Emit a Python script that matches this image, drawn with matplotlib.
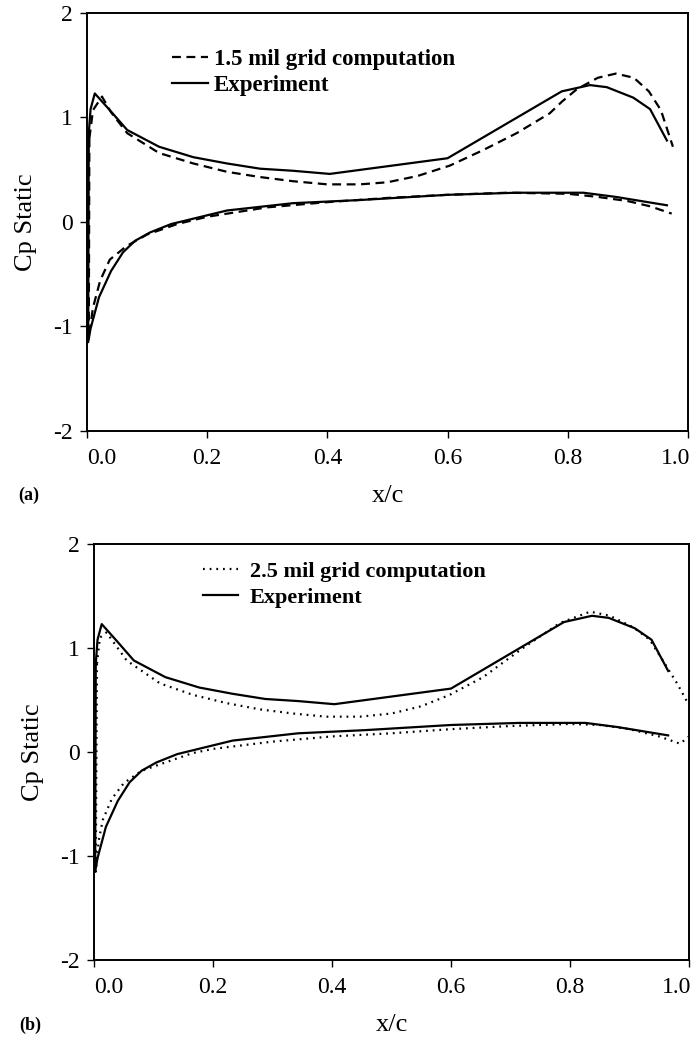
import matplotlib
matplotlib.use('Agg')
from matplotlib import pyplot as plt
from matplotlib import transforms

plt.rcParams['font.family'] = ['Liberation Serif', 'DejaVu Serif']
plt.rcParams['axes.unicode_minus'] = False

# experiment (same data in both panels), upper and lower surface from the leading edge
exp_up_x = [0.003, 0.006, 0.013, 0.038, 0.067, 0.12, 0.177, 0.233, 0.288, 0.343, 0.404,
            0.6, 0.79, 0.837, 0.865, 0.909, 0.937, 0.965]
exp_up_cp = [0.85, 1.08, 1.23, 1.07, 0.88, 0.72, 0.62, 0.56, 0.51, 0.49, 0.46,
             0.61, 1.25, 1.31, 1.29, 1.19, 1.08, 0.78]
exp_lo_x = [0.003, 0.002, 0.006, 0.02, 0.04, 0.06, 0.08, 0.105, 0.14, 0.19, 0.233, 0.343,
            0.454, 0.6, 0.715, 0.826, 0.88, 0.965]
exp_lo_cp = [0.85, -1.15, -1.02, -0.72, -0.47, -0.29, -0.18, -0.1, -0.02, 0.05, 0.11, 0.18,
             0.21, 0.26, 0.28, 0.28, 0.24, 0.16]

# 1.5 mil grid computation
c15_up_x = [0.004, 0.01, 0.025, 0.04, 0.067, 0.12, 0.177, 0.233, 0.288, 0.343, 0.4, 0.454,
            0.5, 0.55, 0.604, 0.66, 0.715, 0.77, 0.79, 0.815, 0.85, 0.88, 0.91, 0.935,
            0.955, 0.975]
c15_up_cp = [0.8, 1.07, 1.2, 1.05, 0.85, 0.66, 0.56, 0.48, 0.43, 0.39, 0.36, 0.36,
             0.38, 0.44, 0.54, 0.69, 0.85, 1.04, 1.15, 1.27, 1.38, 1.42, 1.38, 1.25,
             1.07, 0.72]
c15_lo_x = [0.004, 0.003, 0.01, 0.022, 0.038, 0.066, 0.1, 0.15, 0.2, 0.3, 0.4, 0.5, 0.6,
            0.7, 0.8, 0.85, 0.9, 0.937, 0.973]
c15_lo_cp = [0.8, -1.1, -0.82, -0.56, -0.36, -0.23, -0.12, -0.02, 0.05, 0.14, 0.19, 0.23,
             0.26, 0.28, 0.27, 0.24, 0.2, 0.15, 0.08]

# 2.5 mil grid computation
c25_up_x = [0.005, 0.01, 0.021, 0.055, 0.111, 0.166, 0.223, 0.279, 0.335, 0.39, 0.447,
            0.5, 0.55, 0.598, 0.654, 0.721, 0.783, 0.834, 0.867, 0.906, 0.934, 0.956,
            0.98, 1.0]
c25_up_cp = [0.85, 1.1, 1.15, 0.88, 0.66, 0.55, 0.47, 0.41, 0.37, 0.34, 0.34,
             0.37, 0.44, 0.55, 0.72, 1.0, 1.24, 1.35, 1.31, 1.2, 1.08, 0.88,
             0.66, 0.45]
c25_lo_x = [0.005, 0.003, 0.008, 0.015, 0.03, 0.05, 0.08, 0.12, 0.166, 0.2, 0.3, 0.4, 0.5,
            0.6, 0.7, 0.8, 0.85, 0.9, 0.95, 0.97, 0.985, 1.0]
c25_lo_cp = [0.85, -1.15, -0.85, -0.65, -0.45, -0.3, -0.18, -0.1, -0.01, 0.03, 0.1, 0.15,
             0.18, 0.22, 0.25, 0.27, 0.26, 0.22, 0.15, 0.11, 0.08, 0.15]

x_ticks = [0.0, 0.2, 0.4, 0.6, 0.8, 1.0]
y_ticks = [-2, -1, 0, 1, 2]


def style_axes(ax):
    ax.set_xlim(0, 1.0)
    ax.set_ylim(-2, 2)
    ax.set_xticks(x_ticks)
    ax.set_xticklabels(['%.1f' % v for v in x_ticks])
    ax.set_yticks(y_ticks)
    ax.set_yticklabels([str(v) for v in y_ticks])
    ax.tick_params(direction='out', length=5, width=1, labelsize=17, pad=5)
    ax.tick_params(axis='x', pad=7)
    for s in ax.spines.values():
        s.set_linewidth(1.4)
    ax.set_ylabel('Cp Static', fontsize=19, labelpad=12)
    ax.set_xlabel('x/c', fontsize=19, labelpad=12)
    # end labels sit inside the axis ends
    labels = ax.get_xticklabels()
    labels[0].set_transform(labels[0].get_transform() +
                            transforms.ScaledTranslation(15 / 100, 0, ax.figure.dpi_scale_trans))
    labels[-1].set_transform(labels[-1].get_transform() +
                             transforms.ScaledTranslation(-12 / 100, 0, ax.figure.dpi_scale_trans))


fig = plt.figure(figsize=(6.93, 10.39), dpi=100)
ax1 = fig.add_axes([0.1255, 0.5852, 0.8672, 0.4023])
ax2 = fig.add_axes([0.1356, 0.0760, 0.8586, 0.4004])

# (a)
ax1.plot(c15_up_x, c15_up_cp, color='black', lw=1.6, ls=(0, (4, 2.5)),
         label='1.5 mil grid computation')
ax1.plot(c15_lo_x, c15_lo_cp, color='black', lw=1.6, ls=(0, (4, 2.5)))
ax1.plot(exp_up_x, exp_up_cp, color='black', lw=1.6, label='Experiment')
ax1.plot(exp_lo_x, exp_lo_cp, color='black', lw=1.6)
style_axes(ax1)
ax1.legend(loc='upper left', bbox_to_anchor=(0.141, 0.914), frameon=False,
           prop={'weight': 'bold', 'size': 16.5}, handlelength=1.6, handletextpad=0.25,
           labelspacing=0.2, borderpad=0, borderaxespad=0)

# (b)
ax2.plot(c25_up_x, c25_up_cp, color='black', lw=1.6, ls=(0, (0.8, 2.2)),
         label='2.5 mil grid computation')
ax2.plot(c25_lo_x, c25_lo_cp, color='black', lw=1.6, ls=(0, (0.8, 2.2)))
ax2.plot(exp_up_x, exp_up_cp, color='black', lw=1.6, label='Experiment')
ax2.plot(exp_lo_x, exp_lo_cp, color='black', lw=1.6)
style_axes(ax2)
ax2.legend(loc='upper left', bbox_to_anchor=(0.183, 0.959), frameon=False,
           prop={'weight': 'bold', 'size': 16}, handlelength=1.6, handletextpad=0.5,
           labelspacing=0.25, borderpad=0, borderaxespad=0)

fig.text(0.042, 1 - 495 / 1039, '(a)', fontsize=13, fontweight='bold', ha='center', va='center')
fig.text(0.043, 1 - 1025 / 1039, '(b)', fontsize=13, fontweight='bold', ha='center', va='center')

fig.savefig('out.png', dpi=100)
